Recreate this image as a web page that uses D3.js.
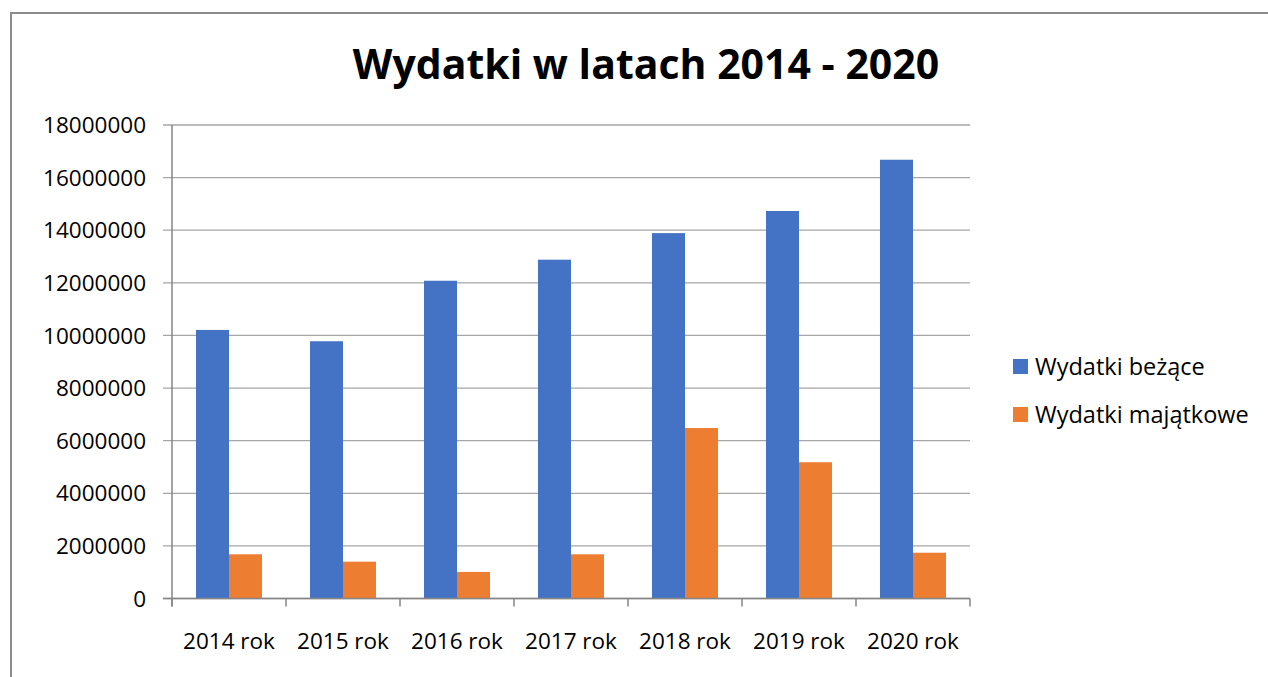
<!DOCTYPE html>
<html lang="pl">
  <head>
    <meta charset="UTF-8" />
    <title>Wydatki w latach 2014 - 2020</title>
    <script src="https://d3js.org/d3.v7.min.js"></script>
    <style>
      body {
        margin: 0;
        background: white;
        font-family: "Open Sans", "Noto Sans", sans-serif;
      }
      .grid line {
        stroke: #a6a6a6;
        stroke-width: 1.3px;
      }
      .axis-label {
        font-size: 22.5px;
        fill: #000;
      }
      .legend-label {
        font-size: 23.5px;
        fill: #000;
      }
    </style>
  </head>
  <body>
    <div id="chart"></div>
    <script>
      const years = ["2014 rok", "2015 rok", "2016 rok", "2017 rok", "2018 rok", "2019 rok", "2020 rok"];
      const seriesNames = ["Wydatki beżące", "Wydatki majątkowe"];
      const biezace = [10210000, 9780000, 12080000, 12880000, 13890000, 14730000, 16680000];
      const majatkowe = [1680000, 1400000, 1010000, 1680000, 6480000, 5180000, 1740000];
      const yTicks = [0, 2000000, 4000000, 6000000, 8000000, 10000000, 12000000, 14000000, 16000000, 18000000];
      const colors = ["#4472c4", "#ed7d31"];

      const W = 1268, H = 677;
      const plot = { left: 172, right: 970, top: 125, bottom: 598.5 };

      const svg = d3.select("#chart").append("svg")
        .attr("width", W)
        .attr("height", H);

      // ramka
      svg.append("rect")
        .attr("x", 11).attr("y", 13)
        .attr("width", W).attr("height", H)
        .attr("fill", "none")
        .attr("stroke", "#8c8c8c")
        .attr("stroke-width", 2);

      svg.append("text")
        .attr("x", 646).attr("y", 79)
        .attr("text-anchor", "middle")
        .style("font-size", "41px")
        .style("font-weight", "bold")
        .text("Wydatki w latach 2014 - 2020");

      const x0 = d3.scaleBand().domain(years).range([plot.left, plot.right]);
      const innerPad = 24;
      const x1 = d3.scaleBand().domain(seriesNames)
        .range([innerPad, x0.bandwidth() - innerPad]);
      const y = d3.scaleLinear().domain([0, 18000000]).range([plot.bottom, plot.top]);

      // siatka + etykiety osi y
      const g = svg.append("g").attr("class", "grid");
      g.selectAll("line").data(yTicks).join("line")
        .attr("x1", plot.left - 9).attr("x2", plot.right)
        .attr("y1", d => y(d)).attr("y2", d => y(d));

      svg.append("g").selectAll("text").data(yTicks).join("text")
        .attr("class", "axis-label")
        .attr("x", 146)
        .attr("y", d => y(d))
        .attr("dy", "0.36em")
        .attr("text-anchor", "end")
        .text(d => d);

      // słupki
      const rows = years.map((yr, i) => ({ year: yr, values: [biezace[i], majatkowe[i]] }));
      const groups = svg.append("g").selectAll("g").data(rows).join("g")
        .attr("transform", d => `translate(${x0(d.year)},0)`);
      groups.selectAll("rect")
        .data(d => d.values.map((v, k) => ({ name: seriesNames[k], value: v, k })))
        .join("rect")
        .attr("x", d => x1(d.name))
        .attr("y", d => y(d.value))
        .attr("width", x1.bandwidth())
        .attr("height", d => y(0) - y(d.value))
        .attr("fill", d => colors[d.k]);

      // osie
      svg.append("line")
        .attr("x1", plot.left).attr("x2", plot.left)
        .attr("y1", plot.top).attr("y2", plot.bottom + 8)
        .attr("stroke", "#868686").attr("stroke-width", 1.5);
      svg.append("line")
        .attr("x1", plot.left - 9).attr("x2", plot.right)
        .attr("y1", plot.bottom).attr("y2", plot.bottom)
        .attr("stroke", "#868686").attr("stroke-width", 1.5);
      const bounds = years.map(d => x0(d)).concat([plot.right]);
      svg.append("g").selectAll("line").data(bounds).join("line")
        .attr("x1", d => d).attr("x2", d => d)
        .attr("y1", plot.bottom).attr("y2", plot.bottom + 8)
        .attr("stroke", "#868686").attr("stroke-width", 1.5);

      // etykiety osi x
      svg.append("g").selectAll("text").data(years).join("text")
        .attr("class", "axis-label")
        .attr("x", d => x0(d) + x0.bandwidth() / 2)
        .attr("y", 649)
        .attr("text-anchor", "middle")
        .text(d => d);

      // legenda
      const legend = svg.append("g").selectAll("g").data(seriesNames).join("g")
        .attr("transform", (d, i) => `translate(1013,${359 + i * 48})`);
      legend.append("rect")
        .attr("width", 15).attr("height", 15)
        .attr("fill", (d, i) => colors[i]);
      legend.append("text")
        .attr("class", "legend-label")
        .attr("x", 22).attr("y", 7.5)
        .attr("dy", "0.36em")
        .text(d => d);
    </script>
  </body>
</html>
